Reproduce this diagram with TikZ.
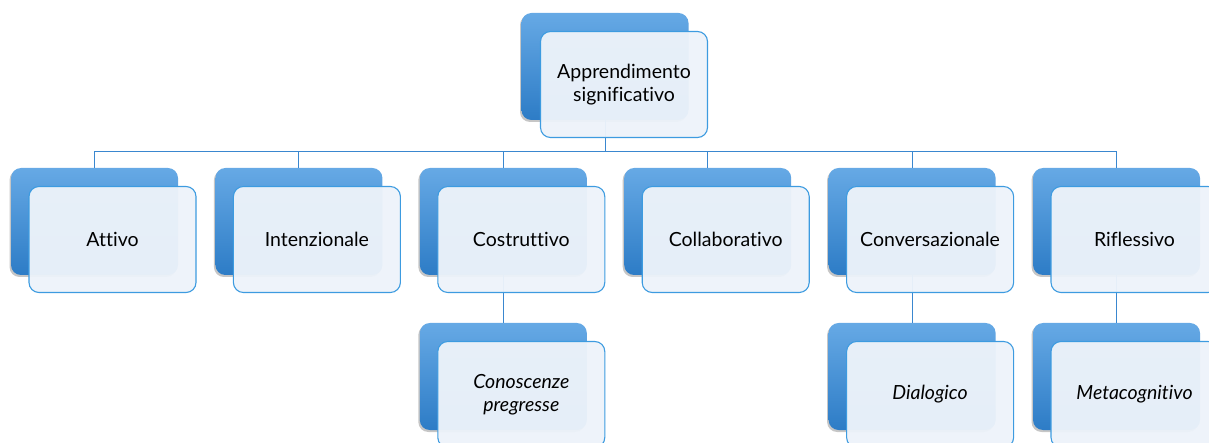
\documentclass[tikz,border=0pt]{standalone}
\usepackage{fontspec}
\setmainfont[Ligatures=NoCommon]{Lato}
\usetikzlibrary{positioning,shadows}

\definecolor{boxtop}{HTML}{66A9E5}
\definecolor{boxbot}{HTML}{2D7CC6}
\definecolor{frontfill}{HTML}{EDF3FA}
\definecolor{frontline}{HTML}{3D9BE0}
\definecolor{linkblue}{HTML}{3A87CF}

\tikzset{
  backbox/.style={rectangle, rounded corners=10pt, draw=none, outer sep=0pt,
    minimum width=167pt, minimum height=107pt,
    top color=boxtop, bottom color=boxbot,
    drop shadow={shadow xshift=-1.5pt, shadow yshift=-2pt, opacity=0.45}},
  frontbox/.style={rectangle, rounded corners=10pt, draw=frontline,
    line width=1.1pt, fill=frontfill, fill opacity=0.96, text opacity=1,
    minimum width=167pt, minimum height=106pt, align=center,
    font=\fontsize{19.5}{23}\selectfont},
  link/.style={draw=linkblue, line width=1pt}
}

\begin{document}
\begin{tikzpicture}[x=1pt, y=-1pt]
  \useasboundingbox (0,0) rectangle (1209,443);

  % back boxes
  \node[backbox] (top) at (605,66.5) {};
  \node[backbox] (attivo) at (94.5,221.5) {};
  \node[backbox, right=37.4pt of attivo] (intenz) {};
  \node[backbox, right=37.4pt of intenz] (costr) {};
  \node[backbox, right=37.4pt of costr] (collab) {};
  \node[backbox, right=37.4pt of collab] (conv) {};
  \node[backbox, right=37.4pt of conv] (rifl) {};
  \node[backbox, below=48pt of costr] (conosc) {};
  \node[backbox, below=48pt of conv] (dialog) {};
  \node[backbox, below=48pt of rifl] (metacog) {};

  % connectors
  \coordinate (bus) at ([yshift=-32pt]top.south);
  \foreach \n in {attivo,intenz,costr,collab,conv,rifl}
    \draw[link] (top.south) -- (bus) -| (\n.north);
  \draw[link] (costr.south) -- (conosc.north);
  \draw[link] (conv.south) -- (dialog.north);
  \draw[link] (rifl.south) -- (metacog.north);

  % front boxes
  \node[frontbox] (topF) at ([xshift=19pt,yshift=-18pt]top.center) {Apprendimento\\significativo};
  \node[frontbox] (attivoF) at ([xshift=18pt,yshift=-18pt]attivo.center) {Attivo};
  \node[frontbox] (intenzF) at ([xshift=18pt,yshift=-18pt]intenz.center) {Intenzionale};
  \node[frontbox] (costrF) at ([xshift=18pt,yshift=-18pt]costr.center) {Costruttivo};
  \node[frontbox] (collabF) at ([xshift=18pt,yshift=-18pt]collab.center) {Collaborativo};
  \node[frontbox] (convF) at ([xshift=18pt,yshift=-18pt]conv.center) {Conversazionale};
  \node[frontbox] (riflF) at ([xshift=18pt,yshift=-18pt]rifl.center) {Riflessivo};
  \node[frontbox, font=\fontsize{19.5}{23}\selectfont\itshape] (conoscF) at ([xshift=18pt,yshift=-18pt]conosc.center) {Conoscenze\\pregresse};
  \node[frontbox, font=\fontsize{19.5}{23}\selectfont\itshape] (dialogF) at ([xshift=18pt,yshift=-18pt]dialog.center) {Dialogico};
  \node[frontbox, font=\fontsize{19.5}{23}\selectfont\itshape] (metacogF) at ([xshift=18pt,yshift=-18pt]metacog.center) {Metacognitivo};
\end{tikzpicture}
\end{document}
